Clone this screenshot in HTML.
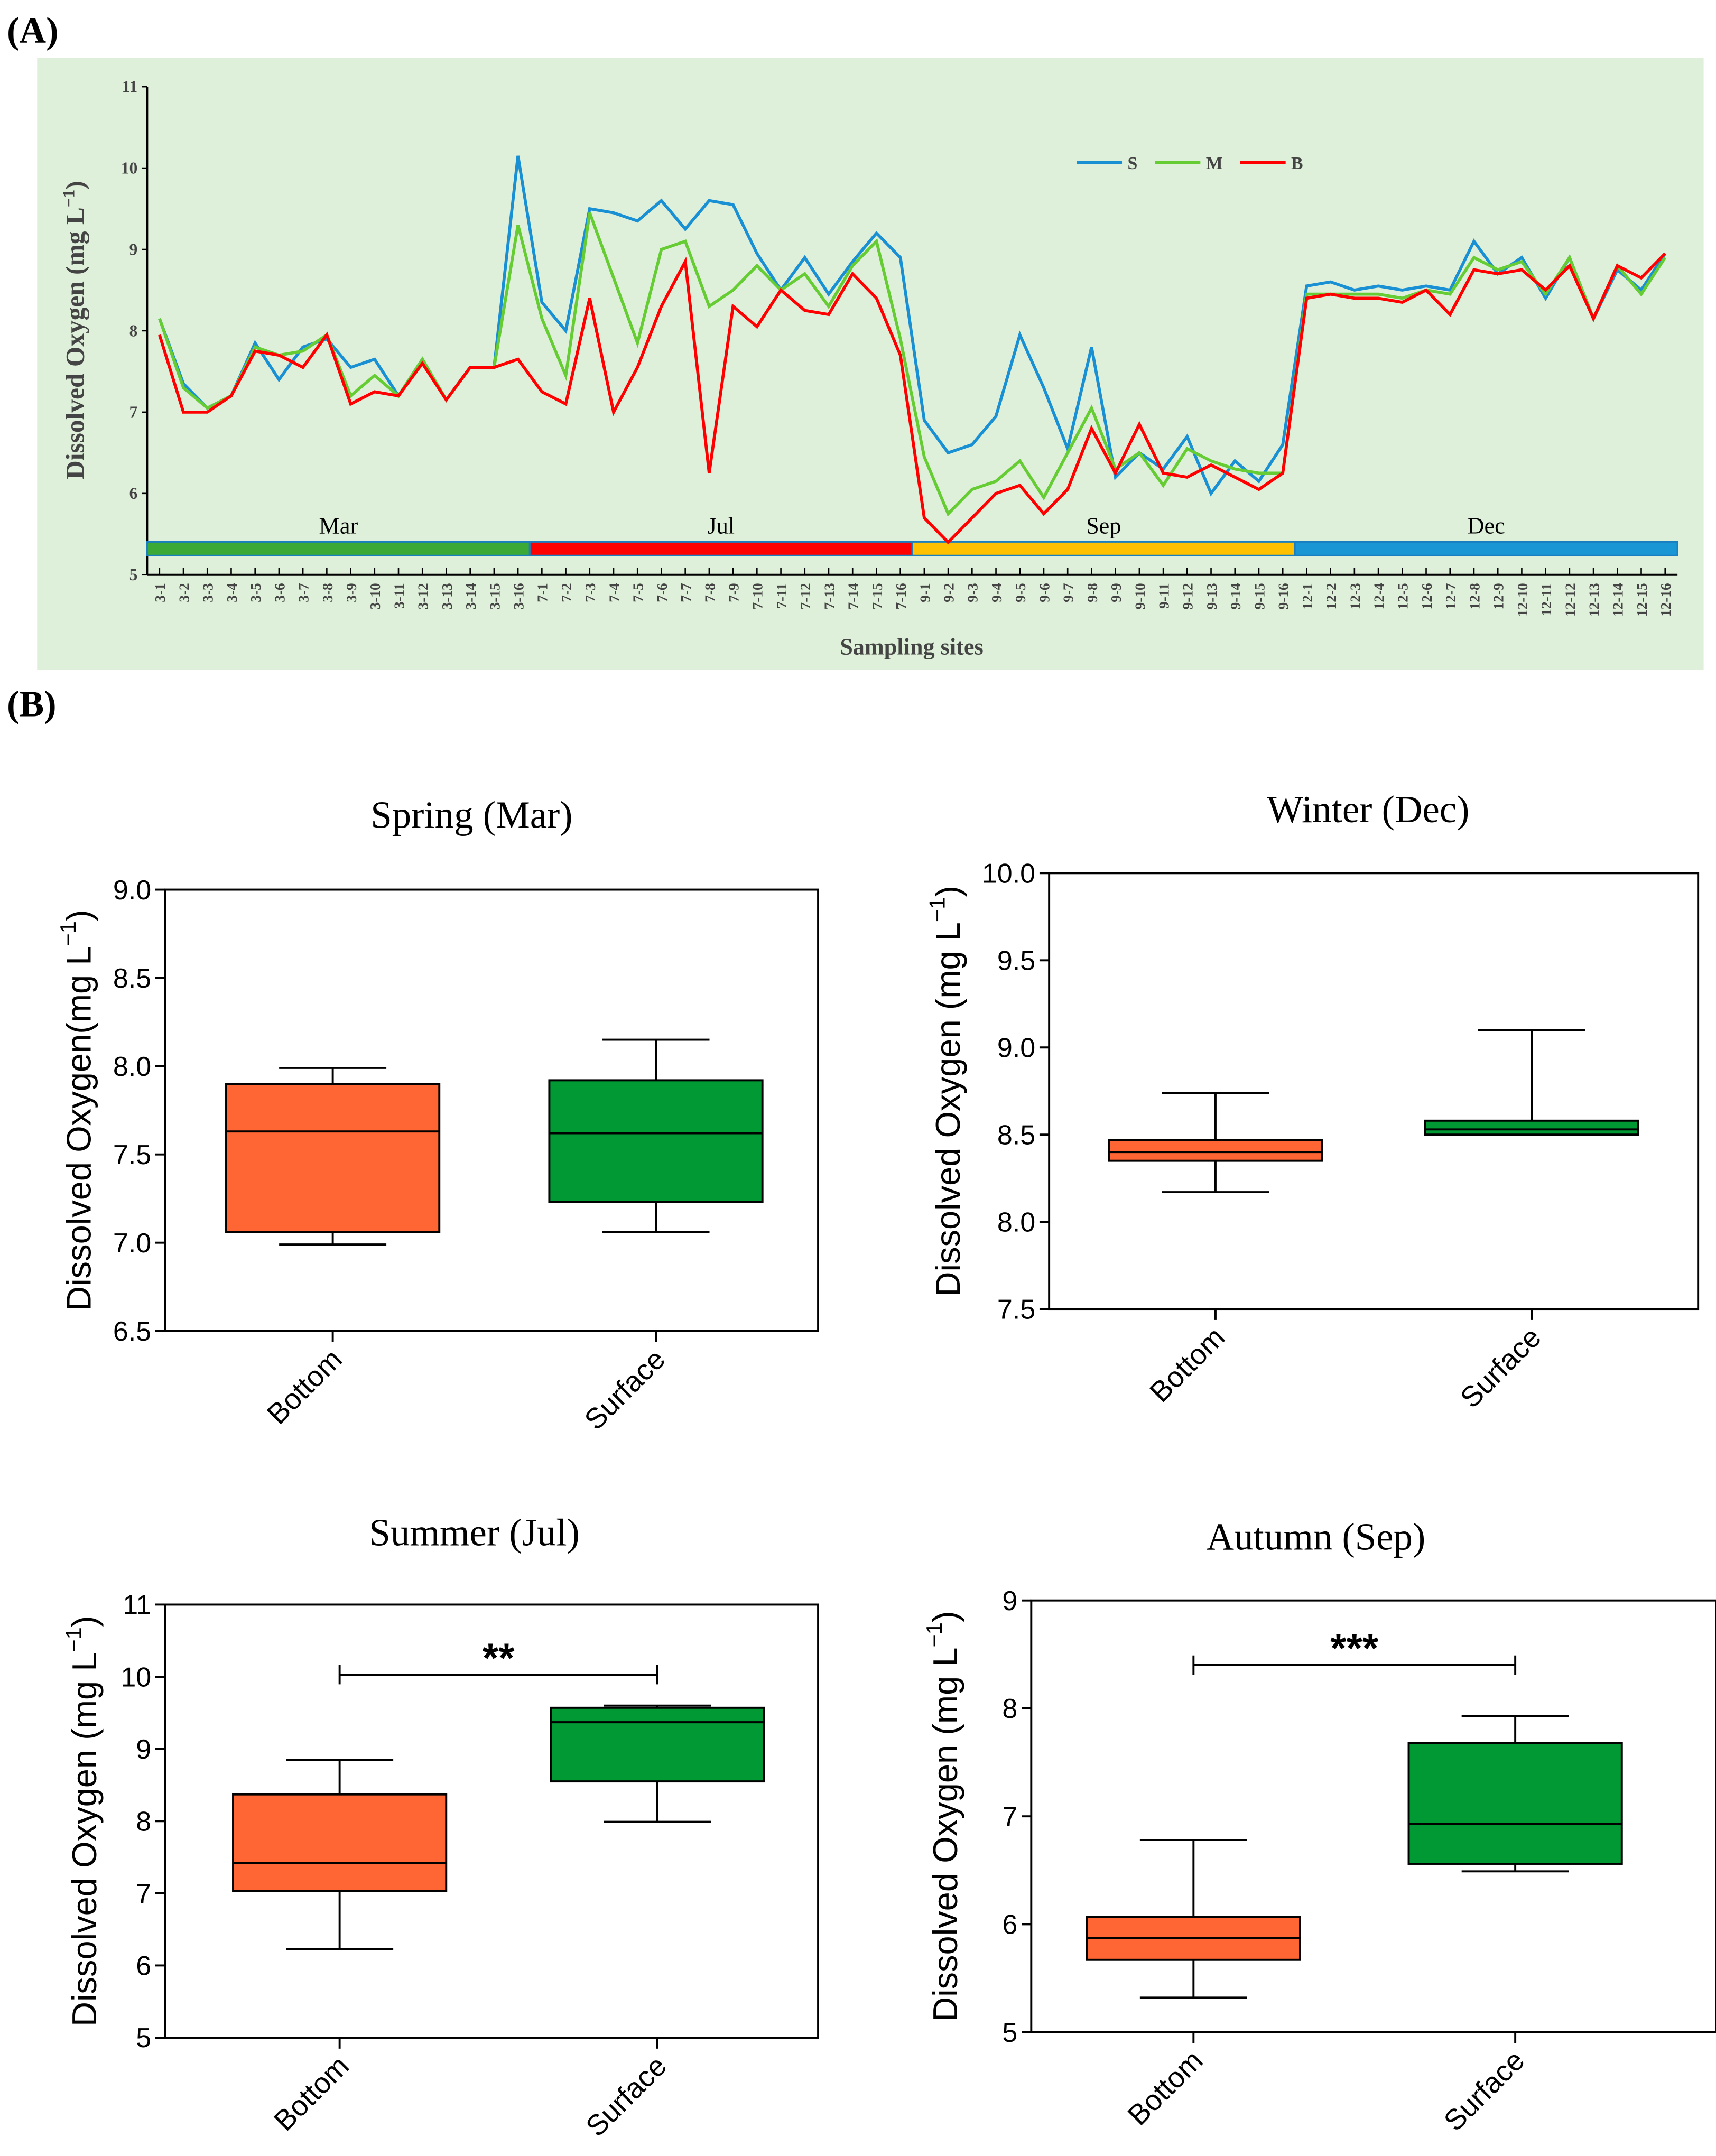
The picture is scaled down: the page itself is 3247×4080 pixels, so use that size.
<!DOCTYPE html>
<html><head><meta charset="utf-8"><style>
html,body{margin:0;padding:0;background:#fff}
svg{display:block}
</style></head><body>
<svg id="fig" xmlns="http://www.w3.org/2000/svg" width="3247" height="4080" viewBox="0 0 1248 1568">
<rect x="0" y="0" width="1248" height="1568" fill="#fff"/>
<text x="5" y="31" font-family="Liberation Serif, serif" font-weight="bold" font-size="27">(A)</text>
<text x="5" y="521" font-family="Liberation Serif, serif" font-weight="bold" font-size="27">(B)</text>
<rect x="27" y="42" width="1212" height="445" fill="#dff0da"/>
<g id="lineChart"></g>
<g id="boxes"></g>
</svg>
<script>
const months = ["3","7","9","12"];
const monthNames = ["Mar","Jul","Sep","Dec"];
const monthColors = ["#3aa935","#ff0000","#ffc000","#1a96d4"];
const seriesS = [8.15,7.35,7.05,7.2,7.85,7.4,7.8,7.9,7.55,7.65,7.2,7.65,7.15,7.55,7.55,10.15,
 8.35,8.0,9.5,9.45,9.35,9.6,9.25,9.6,9.55,8.95,8.5,8.9,8.45,8.85,9.2,8.9,
 6.9,6.5,6.6,6.95,7.95,7.3,6.55,7.8,6.2,6.5,6.3,6.7,6.0,6.4,6.15,6.6,
 8.55,8.6,8.5,8.55,8.5,8.55,8.5,9.1,8.7,8.9,8.4,8.9,8.15,8.75,8.5,8.95];
const seriesM = [8.15,7.3,7.05,7.2,7.8,7.7,7.75,7.95,7.2,7.45,7.2,7.65,7.15,7.55,7.55,9.3,
 8.15,7.45,9.45,8.65,7.85,9.0,9.1,8.3,8.5,8.8,8.5,8.7,8.3,8.8,9.1,7.9,
 6.45,5.75,6.05,6.15,6.4,5.95,6.5,7.05,6.3,6.5,6.1,6.55,6.4,6.3,6.25,6.25,
 8.45,8.45,8.45,8.45,8.4,8.5,8.45,8.9,8.75,8.85,8.45,8.9,8.15,8.8,8.45,8.9];
const seriesB = [7.95,7.0,7.0,7.2,7.75,7.7,7.55,7.95,7.1,7.25,7.2,7.6,7.15,7.55,7.55,7.65,
 7.25,7.1,8.4,7.0,7.55,8.3,8.85,6.25,8.3,8.05,8.5,8.25,8.2,8.7,8.4,7.7,
 5.7,5.4,5.7,6.0,6.1,5.75,6.05,6.8,6.25,6.85,6.25,6.2,6.35,6.2,6.05,6.25,
 8.4,8.45,8.4,8.4,8.35,8.5,8.2,8.75,8.7,8.75,8.5,8.8,8.15,8.8,8.65,8.95];
const yTicks = [5,6,7,8,9,10,11];

const NS="http://www.w3.org/2000/svg";
function mk(tag, attrs, parent, txt){
  const e=document.createElementNS(NS,tag);
  for(const k in attrs) e.setAttribute(k,attrs[k]);
  if(txt!==undefined) e.textContent=txt;
  parent.appendChild(e); return e;
}
const LC=document.getElementById('lineChart');
const X0=107, X1=1220, Y0=418, Y1=63;
const xs = i => 116 + i*(1211-116)/63;
const ys = v => Y0 - (v-5)/(11-5)*(Y0-Y1);
const serif="Liberation Serif, serif";
// axes
let a=mk('line',{x1:X0,y1:Y1,x2:X0,y2:Y0,stroke:'#000','stroke-width':1.5},LC);


a=mk('line',{x1:X0,y1:Y0,x2:X1,y2:Y0,stroke:'#000','stroke-width':1.5},LC);


yTicks.forEach(t=>{
  mk('line',{x1:X0,y1:ys(t),x2:X0-4,y2:ys(t),stroke:'#000','stroke-width':1},LC);
  const tx=mk('text',{x:X0-7,y:ys(t)+4,'text-anchor':'end','font-family':serif,'font-weight':'bold','font-size':12,fill:'#444'},LC,String(t));
  
  
});
// color bar
const segW=(X1-X0)/4;
monthNames.forEach((m,k)=>{
  const r=mk('rect',{x:X0+k*segW,y:394,width:segW,height:10,fill:monthColors[k],stroke:'#1a7fc0','stroke-width':1.2},LC);
  
  
  const t=mk('text',{x:X0+k*segW+segW/2,y:388,'text-anchor':'middle','font-family':serif,'font-size':17},LC,m);
  
  
});
// x ticks & labels
for(let i=0;i<64;i++){
  const lab=months[Math.floor(i/16)]+'-'+(i%16+1);
  mk('line',{x1:xs(i),y1:Y0,x2:xs(i),y2:Y0-5,stroke:'#000','stroke-width':1},LC);
  const t=mk('text',{x:0,y:0,'text-anchor':'end','font-family':serif,'font-weight':'bold','font-size':10.5,fill:'#444',transform:`translate(${xs(i)+4},${Y0+6}) rotate(-90)`},LC,lab);
  
  
}
let t=mk('text',{x:663,y:476,'text-anchor':'middle','font-family':serif,'font-weight':'bold','font-size':17,fill:'#444'},LC,'Sampling sites');


t=mk('text',{x:0,y:0,'text-anchor':'middle','font-family':serif,'font-weight':'bold','font-size':19,fill:'#444',transform:'translate(61,240) rotate(-90)'},LC);
t.innerHTML='Dissolved Oxygen (mg L<tspan dy="-7" font-size="12">−1</tspan><tspan dy="7">)</tspan>';


// lines
[[seriesS,'#1a90d4','series-s'],[seriesM,'#66cc33','series-m'],[seriesB,'#ff0000','series-b']].forEach(([d,c,n])=>{
  const p=mk('polyline',{points:d.map((v,i)=>xs(i)+','+ys(v)).join(' '),fill:'none',stroke:c,'stroke-width':2.2,'stroke-linejoin':'miter'},LC);
  
  
});
// legend
[['S','#1a90d4',783],['M','#66cc33',840],['B','#ff0000',902]].forEach(([l,c,x])=>{
  const g=mk('g',{},LC);
  
  
  mk('line',{x1:x,y1:118,x2:x+33,y2:118,stroke:c,'stroke-width':2.5},g);
  mk('text',{x:x+37,y:123,'font-family':serif,'font-weight':'bold','font-size':13,fill:'#444'},g,l);
});

// ---------- box plots ----------
const boxCats = ["Bottom","Surface"];
const springStats = [[6.99,7.06,7.63,7.9,7.99],[7.06,7.23,7.62,7.92,8.15]];
const winterStats = [[8.17,8.35,8.4,8.47,8.74],[8.5,8.5,8.53,8.58,9.1]];
const summerStats = [[6.23,7.03,7.42,8.37,8.85],[7.99,8.55,9.37,9.57,9.6]];
const autumnStats = [[5.32,5.67,5.87,6.07,6.78],[6.49,6.56,6.93,7.68,7.93]];
const springTicks=[6.5,7.0,7.5,8.0,8.5,9.0];
const winterTicks=[7.5,8.0,8.5,9.0,9.5,10.0];
const summerTicks=[5,6,7,8,9,10,11];
const autumnTicks=[5,6,7,8,9];
const BX=document.getElementById('boxes');
const sans="Liberation Sans, Arial, sans-serif";
function panel(o){
  const g=mk('g',{},BX);
  
  
  const lo=o.ticks[0], hi=o.ticks[o.ticks.length-1];
  const y=v=>o.b-(v-lo)/(hi-lo)*(o.b-o.t);
  mk('rect',{x:o.l,y:o.t,width:o.r-o.l,height:o.b-o.t,fill:'none',stroke:'#000','stroke-width':1.5},g);
  o.ticks.forEach(v=>{
    mk('line',{x1:o.l,y1:y(v),x2:o.l-7,y2:y(v),stroke:'#000','stroke-width':1.5},g);
    const tt=mk('text',{x:o.l-10,y:y(v)+7,'text-anchor':'end','font-family':sans,'font-size':20},g,o.fmt(v));
    
    
  });
  const ti=mk('text',{x:o.tx,y:o.ty,'text-anchor':'middle','font-family':serif,'font-size':28},g,o.title);
  
  
  const yt=mk('text',{x:0,y:0,'text-anchor':'middle','font-family':sans,'font-size':25,transform:`translate(${o.yx},${(o.t+o.b)/2}) rotate(-90)`},g);
  yt.innerHTML=o.ylab+'(mg L<tspan dy="-11" font-size="16">−1</tspan><tspan dy="11">)</tspan>';
  
  
  const w=155;
  o.stats.forEach((s,k)=>{
    const cx=o.cx[k], col=k?'#009933':'#ff6633';
    const bg=mk('g',{},g);
    
    
    mk('line',{x1:cx,y1:y(s[0]),x2:cx,y2:y(s[1]),stroke:'#000','stroke-width':1.5},bg);
    mk('line',{x1:cx,y1:y(s[3]),x2:cx,y2:y(s[4]),stroke:'#000','stroke-width':1.5},bg);
    mk('line',{x1:cx-39,y1:y(s[0]),x2:cx+39,y2:y(s[0]),stroke:'#000','stroke-width':1.5},bg);
    mk('line',{x1:cx-39,y1:y(s[4]),x2:cx+39,y2:y(s[4]),stroke:'#000','stroke-width':1.5},bg);
    mk('rect',{x:cx-w/2,y:y(s[3]),width:w,height:y(s[1])-y(s[3]),fill:col,stroke:'#000','stroke-width':1.5},bg);
    mk('line',{x1:cx-w/2,y1:y(s[2]),x2:cx+w/2,y2:y(s[2]),stroke:'#000','stroke-width':1.5},bg);
    mk('line',{x1:cx,y1:o.b,x2:cx,y2:o.b+8,stroke:'#000','stroke-width':1.5},g);
    const cl=mk('text',{x:0,y:0,'text-anchor':'end','font-family':sans,'font-size':21,transform:`translate(${cx+8},${o.b+22}) rotate(-45)`},g,boxCats[k]);
    
    
  });
  if(o.sig){
    const sg=mk('g',{},g);
    
    
    mk('line',{x1:o.cx[0],y1:o.sig.y,x2:o.cx[1],y2:o.sig.y,stroke:'#000','stroke-width':1.5},sg);
    mk('line',{x1:o.cx[0],y1:o.sig.y-7,x2:o.cx[0],y2:o.sig.y+7,stroke:'#000','stroke-width':1.5},sg);
    mk('line',{x1:o.cx[1],y1:o.sig.y-7,x2:o.cx[1],y2:o.sig.y+7,stroke:'#000','stroke-width':1.5},sg);
    mk('text',{x:(o.cx[0]+o.cx[1])/2,y:o.sig.y-2,'text-anchor':'middle','font-family':sans,'font-weight':'bold','font-size':30},sg,o.sig.txt);
  }
}
const f1=v=>v.toFixed(1), f0=v=>String(v);
panel({name:'spring-panel',l:120,r:595,t:647,b:968,ticks:springTicks,fmt:f1,stats:springStats,cx:[242,477],title:'Spring (Mar)',tx:343,ty:602,yx:66,ylab:'Dissolved Oxygen'});
panel({name:'winter-panel',l:763,r:1235,t:635,b:952,ticks:winterTicks,fmt:f1,stats:winterStats,cx:[884,1114],title:'Winter (Dec)',tx:995,ty:598,yx:698,ylab:'Dissolved Oxygen '});
panel({name:'summer-panel',l:120,r:595,t:1167,b:1482,ticks:summerTicks,fmt:f0,stats:summerStats,cx:[247,478],title:'Summer (Jul)',tx:345,ty:1124,yx:70,ylab:'Dissolved Oxygen ',sig:{y:1218,txt:'**'}});
panel({name:'autumn-panel',l:750,r:1248,t:1164,b:1478,ticks:autumnTicks,fmt:f0,stats:autumnStats,cx:[868,1102],title:'Autumn (Sep)',tx:957,ty:1127,yx:696,ylab:'Dissolved Oxygen ',sig:{y:1211,txt:'***'}});
</script>
</body></html>
